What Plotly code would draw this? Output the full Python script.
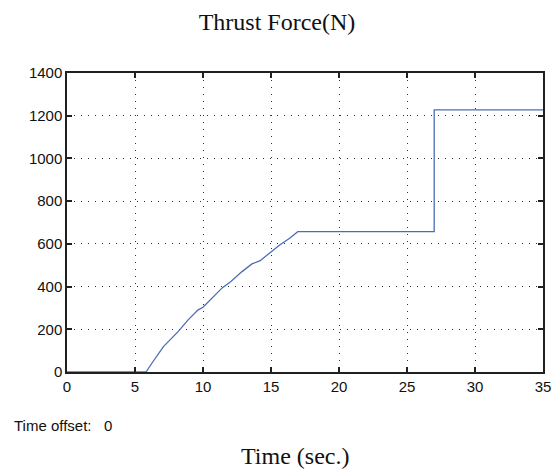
import plotly.graph_objects as go

time_s = [0, 5.81, 6.24, 7.09, 8.17, 8.89, 9.62, 10.0, 11.43, 12.03, 12.87, 13.6, 14.2, 15.0, 15.64, 16.37, 16.97, 27.0, 27.0, 35.0]
thrust_n = [0, 0, 41, 119, 189, 243, 290, 303, 395, 423, 470, 506, 521, 563, 595, 626, 657, 657, 1227, 1227]

x_ticks = [0, 5, 10, 15, 20, 25, 30, 35]
y_ticks = [0, 200, 400, 600, 800, 1000, 1200, 1400]

fig = go.Figure()
fig.add_trace(go.Scatter(x=time_s, y=thrust_n, mode="lines",
                         line=dict(color="#4c6db4", width=1.3), showlegend=False))

axis_common = dict(showline=True, linecolor="#202020", linewidth=1.5, mirror="ticks",
                   ticks="inside", ticklen=5, tickwidth=1.5, tickcolor="#202020",
                   showgrid=True, gridcolor="#303030", gridwidth=1, griddash="1px,6px",
                   zeroline=False, tickfont=dict(family="Liberation Sans, Arial", size=15, color="#111"))

fig.update_xaxes(range=[0, 35], tickvals=x_ticks, **axis_common)
fig.update_yaxes(range=[0, 1400], tickvals=y_ticks, **axis_common)

# page has an 8px body margin; figure is sized/offset to compensate
W, H = 552, 462
L, T = 59, 65
PW, PH = 484, 299

fig.update_layout(
    width=W, height=H,
    margin=dict(l=L, r=W - L - PW, t=T, b=H - T - PH),
    paper_bgcolor="white", plot_bgcolor="white",
    title=dict(text="Thrust Force(N)", x=(277 - 8) / W, xanchor="center", y=1 - (22 - 8) / H, yanchor="middle",
               font=dict(family="Liberation Serif, Times New Roman", size=24, color="#111")),
    annotations=[
        dict(text="Time offset:&nbsp;&nbsp;&nbsp;0", xref="paper", yref="paper",
             x=-56 / PW, y=-53 / PH, xanchor="left", yanchor="middle", showarrow=False,
             font=dict(family="Liberation Sans, Arial", size=15, color="#111")),
        dict(text="Time (sec.)", xref="paper", yref="paper",
             x=(299 - 67) / PW, y=-84 / PH, xanchor="center", yanchor="middle", showarrow=False,
             font=dict(family="Liberation Serif, Times New Roman", size=24, color="#111")),
    ],
)

fig.write_html("out.html")
